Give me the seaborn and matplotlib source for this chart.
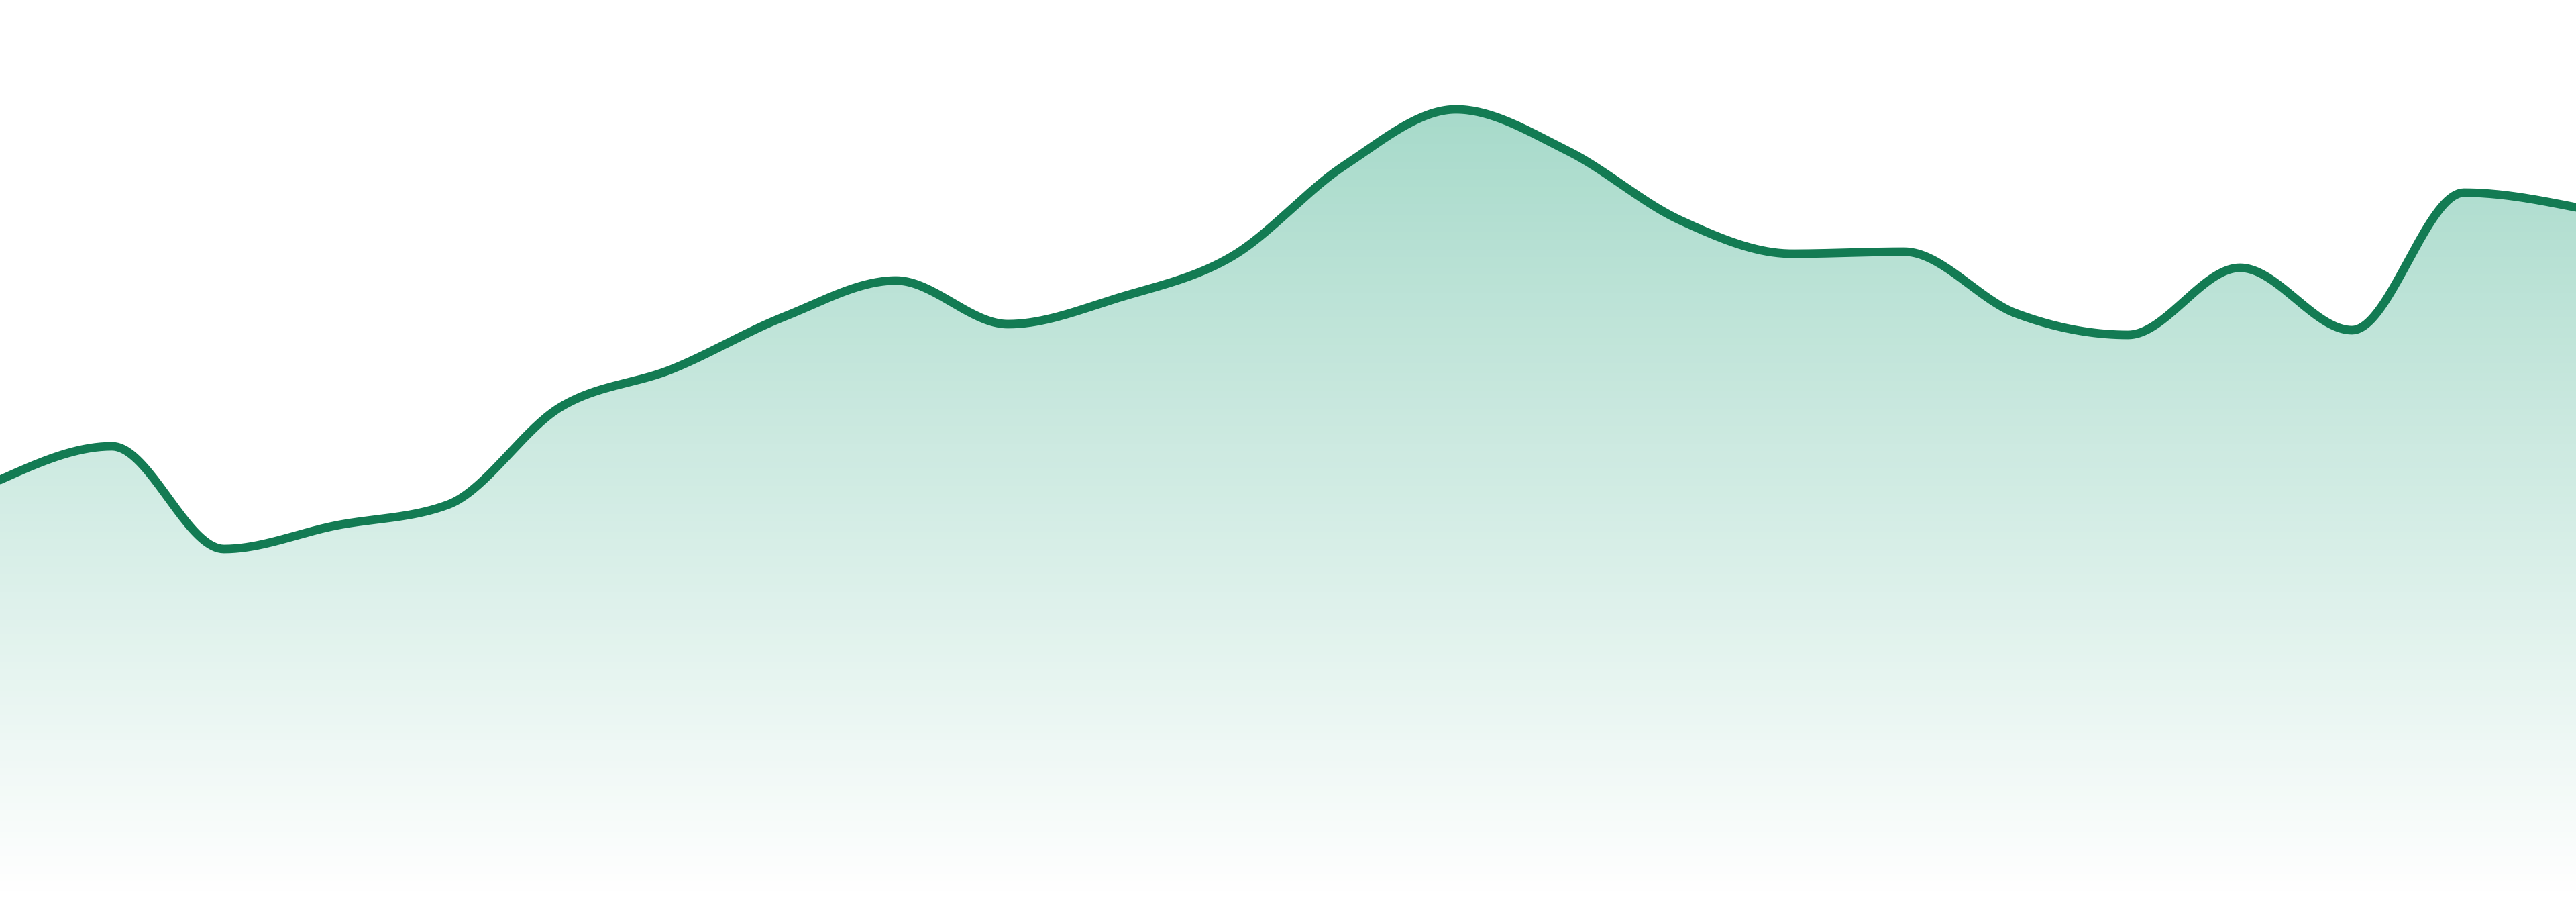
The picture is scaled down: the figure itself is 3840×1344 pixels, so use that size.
import numpy as np
import pandas as pd
import matplotlib
matplotlib.use("Agg")
import matplotlib.pyplot as plt
import seaborn as sns
from matplotlib.colors import to_rgb

# 24 readings (arbitrary units, axis runs 0..134.4)
hours = list(range(24))
values = [62.9, 67.9, 52.6, 56.1, 59.2, 73.7, 79.4, 87.2, 92.6, 86.1, 90.1, 96.2,
          109.7, 118.1, 111.9, 101.6, 96.6, 96.9, 87.7, 84.5, 94.5, 85.2, 105.7, 103.5]

line_color = "#137B53"
fill_color = "#059669"


def monotone_curve(x, y, steps=40):
    # same smoothing as d3.curveMonotoneX
    x = np.asarray(x, float)
    y = np.asarray(y, float)
    n = len(x)
    h = np.diff(x)
    s = np.diff(y) / h
    t = np.zeros(n)
    for i in range(1, n - 1):
        p = (s[i - 1] * h[i] + s[i] * h[i - 1]) / (h[i - 1] + h[i])
        t[i] = (np.sign(s[i - 1]) + np.sign(s[i])) * min(abs(s[i - 1]), abs(s[i]), 0.5 * abs(p))
    t[0] = (3 * s[0] - t[1]) / 2
    t[-1] = (3 * s[-1] - t[-2]) / 2
    xs, ys = [], []
    for i in range(n - 1):
        u = np.linspace(0, 1, steps, endpoint=(i == n - 2))
        dx = h[i]
        p0, p3 = y[i], y[i + 1]
        p1 = p0 + dx * t[i] / 3
        p2 = p3 - dx * t[i + 1] / 3
        xs.append(x[i] + dx * u)
        ys.append((1 - u) ** 3 * p0 + 3 * (1 - u) ** 2 * u * p1 + 3 * (1 - u) * u ** 2 * p2 + u ** 3 * p3)
    return np.concatenate(xs), np.concatenate(ys)


sx, sy = monotone_curve(hours, values)
curve = pd.DataFrame({"hour": sx, "value": sy})

sns.set_style("white")
fig = plt.figure(figsize=(38.4, 13.44), dpi=100)
ax = fig.add_axes([0, 0, 1, 1])

ymax = 134.4
ax.set_xlim(0, 23)
ax.set_ylim(0, ymax)

# gradient fill under the curve
poly = ax.fill_between(sx, sy, 0, color="none", lw=0)
rgb = to_rgb(fill_color)
grad = np.zeros((256, 1, 4))
grad[:, 0, :3] = rgb
grad[:, 0, 3] = np.linspace(0.4, 0.0, 256)
img = ax.imshow(grad, extent=[0, 23, 0, ymax], aspect="auto", origin="upper", zorder=1)
img.set_clip_path(poly.get_paths()[0], transform=ax.transData)

sns.lineplot(data=curve, x="hour", y="value", ax=ax, color=line_color, lw=9.2,
             sort=False, estimator=None, zorder=3)

ax.set_axis_off()
fig.savefig("out.png", dpi=100, facecolor="white")
